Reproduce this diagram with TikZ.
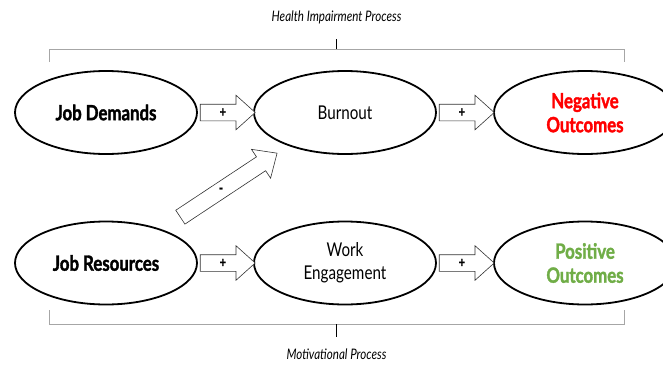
\documentclass[tikz,border=0pt]{standalone}
\usepackage{fontspec}
\setmainfont{Lato}[FakeStretch=0.8,BoldFeatures={FakeBold=1.6}]
\usetikzlibrary{shapes.geometric,shapes.arrows,calc}
\definecolor{negred}{HTML}{FF0000}
\definecolor{posgreen}{HTML}{70AD47}
\definecolor{bracketgray}{HTML}{A6A6A6}
\begin{document}
\begin{tikzpicture}[x=1pt,y=-1pt,
  factor/.style={ellipse,draw=black,line width=1.8pt,minimum width=182pt,
    minimum height=83pt,inner sep=0pt,align=center,font=\fontsize{19}{23}\selectfont},
  strong/.style={font=\fontsize{21}{24}\selectfont\bfseries},
  blockarrow/.style={single arrow,draw=black!80,line width=0.6pt,fill=white,
    inner xsep=0pt,inner ysep=8pt,minimum height=55pt,
    single arrow head extend=9pt,single arrow tip angle=84,anchor=tail},
  sign/.style={font=\fontsize{14}{14}\selectfont\bfseries},
  bracket/.style={draw=bracketgray,line width=0.9pt},
  tick/.style={draw=black,line width=0.8pt},
  process/.style={font=\fontsize{14.5}{16}\selectfont\itshape}]
\useasboundingbox (0,0) rectangle (663,364);

% the six constructs
\node[factor,strong] (jd) at (106,112.5) {Job Demands};
\node[factor] (bo) at (345,112.5) {Burnout};
\node[factor,strong,text=negred] (no) at (585,112.5) {Negative\\Outcomes};
\node[factor,strong] (jr) at (106,263) {Job Resources};
\node[factor] (we) at (345,263) {Work\\Engagement};
\node[factor,strong,text=posgreen] (po) at (585,263) {Positive\\Outcomes};

% block arrows with their signs
\node[blockarrow] (a1) at ($(jd.east)+(2,0)$) {};
\node[sign] at ($(a1.tail)+(23,0)$) {+};
\node[blockarrow] (a2) at ($(bo.east)+(2,0)$) {};
\node[sign] at ($(a2.tail)+(23,0)$) {+};
\node[blockarrow] (a3) at ($(jr.east)+(2,0)$) {};
\node[sign] at ($(a3.tail)+(23,0)$) {+};
\node[blockarrow] (a4) at ($(we.east)+(2,0)$) {};
\node[sign] at ($(a4.tail)+(23,0)$) {+};

% negative path from job resources to burnout
\coordinate (dtail) at ($(jr)!0.31!(bo)+(0,1)$);
\node[blockarrow,minimum height=116pt,rotate=33.5] (a5) at (dtail) {};
\node[sign] at ($(a5.tail)!0.42!(a5.tip)$) {-};

% process brackets
\coordinate (tl) at (49,62);
\coordinate (tr) at (624,62);
\draw[bracket] (tl) -- ++(0,-13) -| (tr);
\coordinate (tm) at (336.5,49);
\draw[tick] (tm) -- ++(0,-10);
\node[process] (hip) at (336.5,17) {Health Impairment Process};

\coordinate (bl) at (49,310);
\coordinate (br) at (624,310);
\draw[bracket] (bl) -- ++(0,14) -| (br);
\coordinate (bm) at (336.5,324);
\draw[tick] (bm) -- ++(0,13);
\node[process] (mp) at (336.5,354) {Motivational Process};
\end{tikzpicture}
\end{document}
